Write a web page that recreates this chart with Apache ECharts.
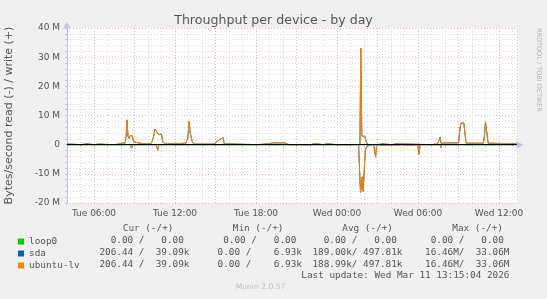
<!DOCTYPE html>
<html>
<head>
<meta charset="utf-8">
<script src="https://cdn.jsdelivr.net/npm/echarts@6/dist/echarts.min.js"></script>
<style>
html,body{margin:0;padding:0;background:#f0f0f0;}
#chart{width:547px;height:299px;}
</style>
</head>
<body>
<div id="chart"></div>
<script>
// time in hours since Tue 00:00, values in MB/s (M)
var xTickHours = [6, 12, 18, 24, 30, 36];
var xTickLabels = ['Tue 06:00', 'Tue 12:00', 'Tue 18:00', 'Wed 00:00', 'Wed 06:00', 'Wed 12:00'];
var yTickValues = [-20, -10, 0, 10, 20, 30, 40];
var yTickLabels = ['-20 M', '-10 M', '0', '10 M', '20 M', '30 M', '40 M'];

var loop0Write = [[4, 0], [37.33, 0]];
var loop0Read = [[4, 0], [37.33, 0]];

var ubuntuWrite = [
  [4.00,0.2],[4.25,0.2],[4.35,0],[5.05,0],[5.15,0.3],[5.45,0.3],[5.55,0],[6.05,0],[6.15,0.2],[6.35,0.2],[6.45,0],
  [7.5,0],[7.6,0.3],[7.8,0.2],[7.95,0.4],[8.15,0.6],[8.3,0.5],[8.38,3.0],[8.44,8.5],[8.52,2.8],[8.6,2.1],[8.68,3.1],
  [8.85,3.0],[8.92,1.0],[9.1,0.8],[9.4,0.5],[9.8,0.3],[10.2,0.3],[10.32,1.2],[10.42,3.0],[10.52,5.4],[10.62,4.6],
  [10.72,4.6],[10.8,3.4],[10.92,3.4],[11.0,3.6],[11.1,1.0],[11.25,0.4],[11.7,0.3],[12.3,0.4],[12.8,0.5],[12.95,2.2],
  [13.04,7.9],[13.12,4.2],[13.2,4.2],[13.28,1.0],[13.4,0.2],[14.95,0.2],[15.08,1.0],[15.2,1.4],[15.3,1.7],[15.42,1.6],
  [15.56,2.5],[15.65,0.3],[16.65,0.2],[16.75,0],[18.05,0],[18.1,0.3],[18.95,0.3],[19.0,0.6],[19.25,0.6],[19.3,0.2],
  [19.4,0.6],[19.65,0.6],[19.75,0.3],[19.9,0.6],[20.15,0.6],[20.3,0.2],[20.5,0],[22.1,0],[22.15,0.5],[22.25,0.3],
  [22.5,0.3],[22.6,0],[23.0,0],[23.05,0.3],[23.25,0.3],[23.3,0],[24.0,0],[24.05,0.5],[24.15,0],[25.15,0],[25.2,0.3],
  [25.3,0],[25.7,0],[25.76,33.06],[25.84,2.9],[26.07,2.9],[26.15,1.2],[26.25,0.2],[26.4,0],[27.0,0],[27.05,0.3],
  [27.3,0.3],[27.35,0],[28.1,0],[28.15,0.3],[28.35,0.3],[28.4,0],[31.05,0],[31.1,0.2],[31.45,0.3],[31.56,1.5],
  [31.63,2.6],[31.72,0.4],[31.85,0.7],[32.0,0.6],[33.0,0.6],[33.12,6.0],[33.2,7.4],[33.4,7.4],[33.5,3.0],[33.56,0.5],
  [34.85,0.5],[34.92,3.0],[35.0,7.8],[35.1,4.0],[35.2,0.5],[37.33,0.3]
];
var ubuntuRead = [
  [4.0,0],[5.9,0],[5.95,-0.4],[6.0,0],[7.62,0],[7.7,-0.3],[7.78,0],[8.7,0],[8.78,-1.2],[8.86,0],[9.0,-0.4],[9.08,0],
  [10.62,0],[10.72,-2.0],[10.8,0],[13.35,0],[13.42,-0.3],[13.5,0],[24.0,0],[24.05,-0.5],[24.15,0],[25.6,0],
  [25.68,-9.5],[25.74,-16.5],[25.82,-16.5],[25.87,-11.0],[25.93,-16.0],[26.05,-16.0],[26.1,-2.0],[26.2,-0.5],[26.3,0],
  [26.72,0],[26.8,-2.5],[26.86,-4.3],[26.93,-0.3],[27.0,0],[28.95,0],[29.0,-0.3],[29.35,-0.3],[29.4,0],[29.98,0],
  [30.07,-3.3],[30.15,0],[30.45,0],[30.5,-0.3],[30.6,0],[31.65,0],[31.7,-1.0],[31.76,0],[34.18,0],[34.22,-0.5],
  [34.28,0],[37.33,0]
];
// sda is drawn underneath ubuntu-lv and coincides with it in the picture
var sdaWrite = ubuntuWrite;
var sdaRead = ubuntuRead;

var legendHeaders = ['Cur (-/+)', 'Min (-/+)', 'Avg (-/+)', 'Max (-/+)'];
var legendRows = [
  ['0.00 /   0.00', '0.00 /   0.00', '0.00 /   0.00', '0.00 /   0.00'],
  ['206.44 /  39.09k', '0.00 /    6.93k', '189.00k/ 497.81k', '16.46M/  33.06M'],
  ['206.44 /  39.09k', '0.00 /    6.93k', '188.99k/ 497.81k', '16.46M/  33.06M']
];
var lastUpdate = 'Last update: Wed Mar 11 13:15:04 2026';

var MONO = "'DejaVu Sans Mono', monospace";
var SANS = "'DejaVu Sans', sans-serif";
var TXT = '#555555';

var chart = echarts.init(document.getElementById('chart'), null, {renderer: 'canvas'});

function lineSeries(name, data, color, extra) {
  var s = {
    name: name, type: 'line', data: data, showSymbol: false, symbol: 'none',
    lineStyle: {color: color, width: 1}, itemStyle: {color: color},
    animation: false, silent: true
  };
  if (extra) for (var k in extra) s[k] = extra[k];
  return s;
}

// graphic texts for the legend table
var graphics = [];
var colRight = [189.5, 302, 402.5, 509.5];
var headerRight = [173.5, 283.5, 393, 503];
legendHeaders.forEach(function (h, i) {
  graphics.push({type: 'text', x: headerRight[i], y: 228.5,
    style: {text: h, fontFamily: MONO, fontSize: 9.35, fill: TXT, align: 'right', verticalAlign: 'middle'}});
});
var rowY = [240.5, 252.5, 264.5];
legendRows.forEach(function (row, r) {
  row.forEach(function (cell, c) {
    var t = cell;
    if (!/[kM]$/.test(t)) t = t + ' ';
    graphics.push({type: 'text', x: colRight[c], y: rowY[r],
      style: {text: t, fontFamily: MONO, fontSize: 9.35, fill: TXT, align: 'right', verticalAlign: 'middle'}});
  });
});
graphics.push({type: 'text', x: 509.5, y: 276,
  style: {text: lastUpdate, fontFamily: MONO, fontSize: 9.35, fill: TXT, align: 'right', verticalAlign: 'middle'}});
graphics.push({type: 'text', x: 260.5, y: 287.5,
  style: {text: 'Munin 2.0.57', fontFamily: SANS, fontSize: 7.6, fill: '#c0c0c0', align: 'center', verticalAlign: 'middle'}});
graphics.push({type: 'text', x: 539, y: 28, rotation: -Math.PI / 2,
  style: {text: 'RRDTOOL / TOBI OETIKER', fontFamily: SANS, fontSize: 6.5, fill: '#b0b0b0', align: 'left', verticalAlign: 'middle'}});

var option = {
  backgroundColor: '#f0f0f0',
  animation: false,
  title: {
    text: 'Throughput per device - by day', left: 'center', top: 9,
    textStyle: {fontFamily: SANS, fontSize: 12.6, fontWeight: 'normal', color: TXT}
  },
  legend: {
    orient: 'vertical', left: 13, top: 232, itemWidth: 6, itemHeight: 6, itemGap: 3,
    icon: 'rect', selectedMode: false,
    data: ['loop0', 'sda', 'ubuntu-lv'],
    textStyle: {fontFamily: MONO, fontSize: 9.35, color: TXT, lineHeight: 9, padding: [0, 0, 0, 0]}
  },
  grid: {left: 67, right: 30, top: 28, bottom: 96, containLabel: false, outerBoundsMode: 'none',
    show: true, backgroundColor: '#ffffff', borderWidth: 0},
  xAxis: {
    type: 'value', min: 4, max: 37.3333, interval: 1,
    axisLine: {show: true, lineStyle: {color: '#c0c0f0', width: 1}, symbol: ['none', 'arrow'], symbolSize: [6, 7], symbolOffset: [0, 6]},
    axisTick: {show: true, length: 2, lineStyle: {color: '#e0a0a0'}},
    axisLabel: {
      fontFamily: SANS, fontSize: 9, color: TXT, margin: 6,
      formatter: function (v) {
        var i = xTickHours.indexOf(Math.round(v * 1000) / 1000);
        return i >= 0 ? xTickLabels[i] : '';
      }
    },
    splitLine: {show: true, lineStyle: {color: ['#dddddd', '#dddddd', '#f0b4b4'], type: [1, 2], width: 1}}
  },
  yAxis: {
    type: 'value', min: -20, max: 40, interval: 2,
    name: 'Bytes/second read (-) / write (+)', nameLocation: 'middle', nameGap: 52,
    nameTextStyle: {fontFamily: SANS, fontSize: 11, color: TXT},
    axisLine: {show: true, lineStyle: {color: '#c0c0f0', width: 1}, symbol: ['none', 'arrow'], symbolSize: [6, 7], symbolOffset: [0, 6]},
    axisTick: {show: true, length: 2, lineStyle: {color: '#c0c0f0'}},
    axisLabel: {
      fontFamily: SANS, fontSize: 9, color: TXT, margin: 7,
      formatter: function (v) {
        var i = yTickValues.indexOf(Math.round(v));
        return (i >= 0 && Math.abs(v - Math.round(v)) < 1e-6) ? yTickLabels[i] : '';
      }
    },
    splitLine: {show: true, lineStyle: {color: ['#f0b4b4', '#dddddd', '#dddddd', '#dddddd', '#dddddd'], type: [1, 2], width: 1}}
  },
  graphic: graphics,
  series: [
    lineSeries('loop0', loop0Write, '#00cc00'),
    lineSeries('loop0', loop0Read, '#00cc00'),
    lineSeries('sda', sdaWrite, '#0066b3'),
    lineSeries('sda', sdaRead, '#0066b3'),
    lineSeries('ubuntu-lv', ubuntuWrite, '#ff8000'),
    lineSeries('ubuntu-lv', ubuntuRead, '#ff8000', {
      markLine: {
        silent: true, symbol: ['none', 'none'], label: {show: false}, animation: false,
        lineStyle: {color: '#000000', width: 1, type: 'solid'},
        data: [{yAxis: 0}]
      }
    })
  ]
};
chart.setOption(option);
</script>
</body>
</html>
